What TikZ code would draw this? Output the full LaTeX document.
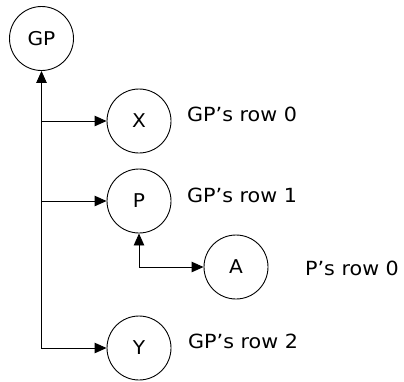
\documentclass[tikz,border=0pt]{standalone}
\usepackage{fontspec}
\setmainfont{DejaVu Sans}[FakeStretch=1.06]
\usetikzlibrary{arrows.meta}
\begin{document}
\begin{tikzpicture}[x=1pt,y=-1pt,
  nd/.style={circle,draw,line width=0.9pt,minimum size=64pt,inner sep=0pt,font=\fontsize{19}{22}\selectfont},
  lbl/.style={anchor=base west,inner sep=0pt,font=\fontsize{19.5}{24}\selectfont},
  conn/.style={line width=0.9pt,-{Triangle[length=12pt,width=10.5pt]}},
  both/.style={line width=0.9pt,{Triangle[length=12pt,width=10.5pt]}-{Triangle[length=12pt,width=10.5pt]}}]
\useasboundingbox (0,0) rectangle (404,381);
\node[nd] (GP) at (41.5,38.5) {GP};
\node[nd] (X) at (139,121) {X};
\node[nd] (P) at (139,201) {P};
\node[nd] (A) at (236,267) {A};
\node[nd] (Y) at (139,348) {Y};
\node[lbl] (lx) at (187,121) {GP's row 0};
\node[lbl] (lp) at (187,202) {GP's row 1};
\node[lbl] (la) at (305,275) {P's row 0};
\node[lbl] (ly) at (188,348) {GP's row 2};
\coordinate (bx) at (GP.south |- X.west);
\coordinate (bp) at (GP.south |- P.west);
\draw[both] (GP.south) |- (Y.west);
\draw[conn] (bx) -- (X.west);
\draw[conn] (bp) -- (P.west);
\draw[both] (P.south) |- (A.west);
\end{tikzpicture}
\end{document}
